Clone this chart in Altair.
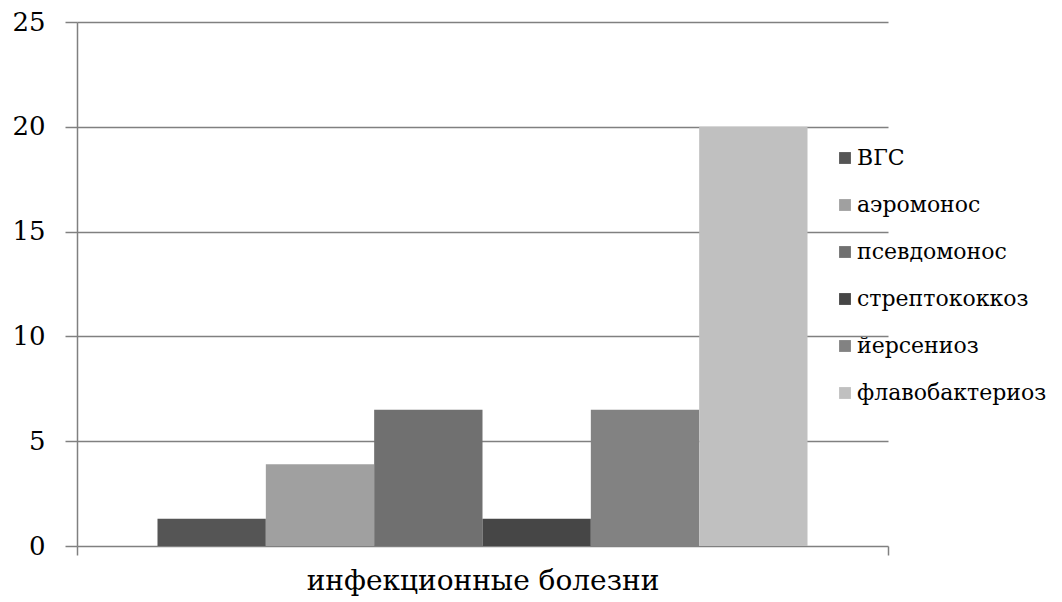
import altair as alt
import pandas as pd

category = ["инфекционные болезни"]
series = ["ВГС", "аэромонос", "псевдомонос", "стрептококкоз", "йерсениоз", "флавобактериоз"]
values = [1.3, 3.9, 6.5, 1.3, 6.5, 20]
colors = ["#555555", "#a0a0a0", "#707070", "#464646", "#828282", "#c0c0c0"]

df = pd.DataFrame({"cat": category * len(series), "series": series, "value": values})

FONT = "DejaVu Serif"

chart = alt.Chart(df).mark_bar().encode(
    x=alt.X("cat:N", scale=alt.Scale(paddingInner=0, paddingOuter=0),
            axis=alt.Axis(title=None, labelFontSize=28, labelFont=FONT, labelColor="#000000",
                          labelPadding=12, tickBand="extent", tickSize=9, tickColor="#808080",
                          tickWidth=1.5, domain=False, grid=False, labelAngle=0, labelLimit=600)),
    xOffset=alt.XOffset("series:N", sort=series,
                        scale=alt.Scale(paddingOuter=0.743, paddingInner=0)),
    y=alt.Y("value:Q", scale=alt.Scale(domain=[0, 25], nice=False),
            axis=alt.Axis(title=None, values=[0, 5, 10, 15, 20, 25], labelFontSize=26,
                          labelFont=FONT, labelColor="#000000", tickSize=12, tickColor="#808080",
                          tickWidth=1.5, gridColor="#808080", gridWidth=1.5, domainColor="#808080",
                          domainWidth=1.5, labelPadding=20)),
    color=alt.Color("series:N", sort=series,
                    scale=alt.Scale(domain=series, range=colors),
                    legend=alt.Legend(title=None, orient="none", legendX=757, legendY=125,
                                      symbolType="square", symbolSize=140, symbolStrokeWidth=0,
                                      labelFont=FONT, labelFontSize=22, labelColor="#000000",
                                      rowPadding=25, labelOffset=1, labelLimit=300)),
).properties(
    width=811, height=524,
    background="#ffffff",
    autosize=alt.AutoSizeParams(type="none"),
    padding={"left": 77, "top": 22, "right": 174, "bottom": 56},
).configure_view(stroke="transparent", strokeWidth=0)

chart.save("out.html", embed_options={"renderer": "svg", "actions": False})
